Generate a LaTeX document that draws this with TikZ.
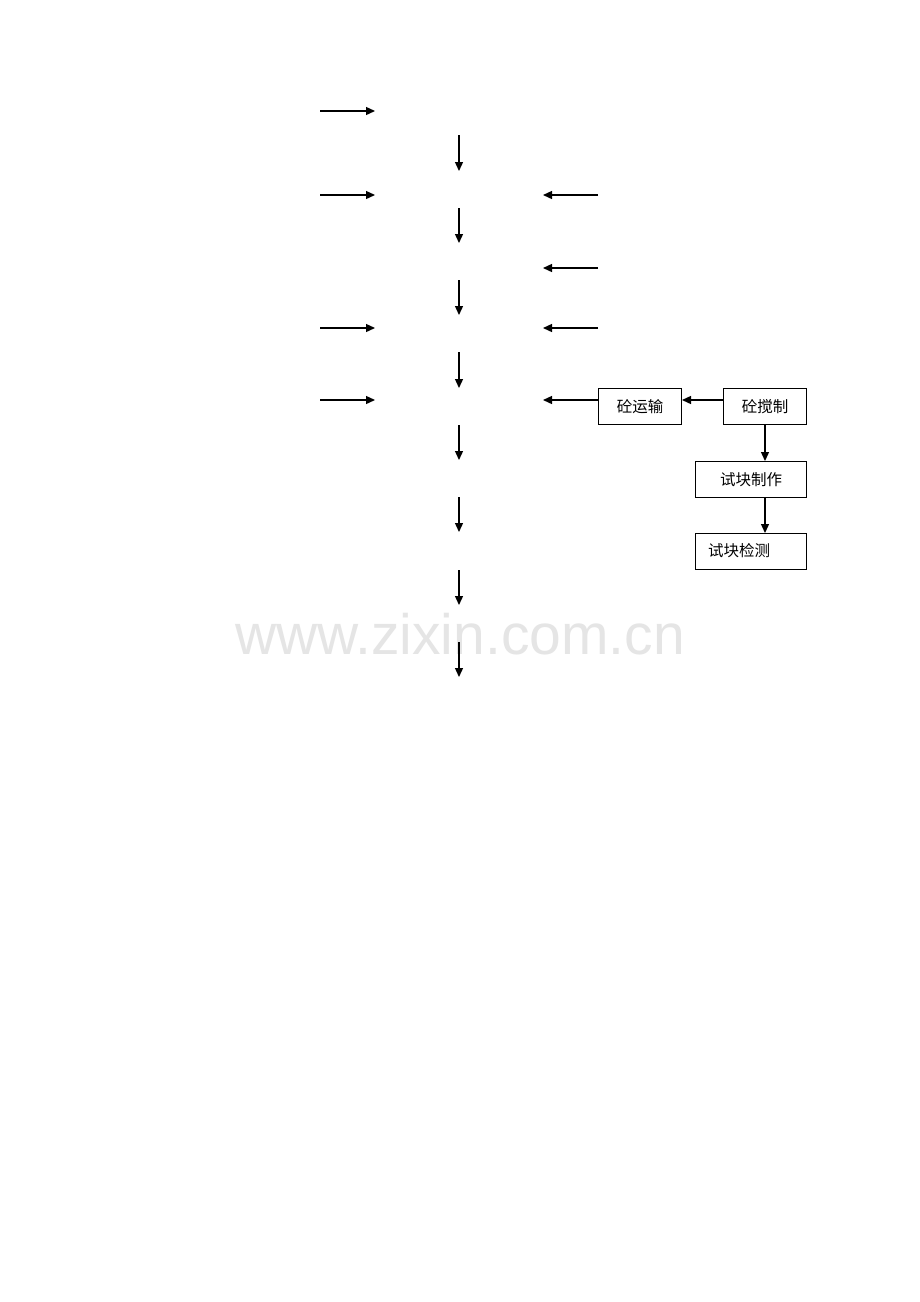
\documentclass[tikz,border=0pt]{standalone}
\usepackage{fontspec}
\setmainfont{Liberation Sans}
\newfontfamily\cjk{Noto Sans CJK SC}
\usetikzlibrary{arrows.meta}
\begin{document}
\begin{tikzpicture}[x=1pt,y=-1pt,
  flow/.style={line width=1.3pt,-{Triangle[length=9pt,width=8pt]}},
  procbox/.style={draw,line width=1pt,inner sep=0pt,anchor=north west,font=\cjk\fontsize{15.5}{18}\selectfont},
  wmark/.style={text=black!10,font=\fontsize{57}{60}\selectfont,inner sep=0pt}]
\useasboundingbox (0,0) rectangle (920,1302);
\fill[white] (0,0) rectangle (920,1302);
% watermark
\node[wmark] (wm) at (460,634) {www.zixin.com.cn};
% free ends of connectors
\foreach \n/\y in {1/111,2/195,3/328,4/400}{
  \coordinate (ls\n) at (320,\y);
  \coordinate (le\n) at (375,\y);
}
\foreach \n/\y in {1/195,2/268,3/328,4/400}{
  \coordinate (rs\n) at (598,\y);
  \coordinate (re\n) at (543,\y);
}
\foreach \n/\a/\b in {1/135/171,2/208/243,3/280/315,4/352/388,5/425/460,6/497/532,7/570/605,8/642/677}{
  \coordinate (ds\n) at (459,\a);
  \coordinate (de\n) at (459,\b);
}
% boxes
\node[procbox,minimum width=83pt,minimum height=36pt] (ys) at (598,388) {砼运输};
\node[procbox,minimum width=83pt,minimum height=36pt] (jz) at (723,388) {砼搅制};
\node[procbox,minimum width=111pt,minimum height=36pt] (zz) at (695,461) {试块制作};
\node[procbox,minimum width=111pt,minimum height=36pt] (jc) at (695,533) {};
\node[anchor=west,inner sep=0pt,font=\cjk\fontsize{15.5}{18}\selectfont] (jct) at (708,551) {试块检测};
% connectors
\foreach \n in {1,2,3,4}{\draw[flow] (ls\n) -- (le\n);}
\foreach \n in {1,2,3}{\draw[flow] (rs\n) -- (re\n);}
\draw[flow] (ys.west |- re4) -- (re4);
\draw[flow] (jz.west |- re4) -- (ys.east |- re4);
\draw[flow] (jz.south -| 765,0) -- (zz.north -| 765,0);
\draw[flow] (zz.south -| 765,0) -- (jc.north -| 765,0);
\foreach \n in {1,...,8}{\draw[flow] (ds\n) -- (de\n);}
\end{tikzpicture}
\end{document}
